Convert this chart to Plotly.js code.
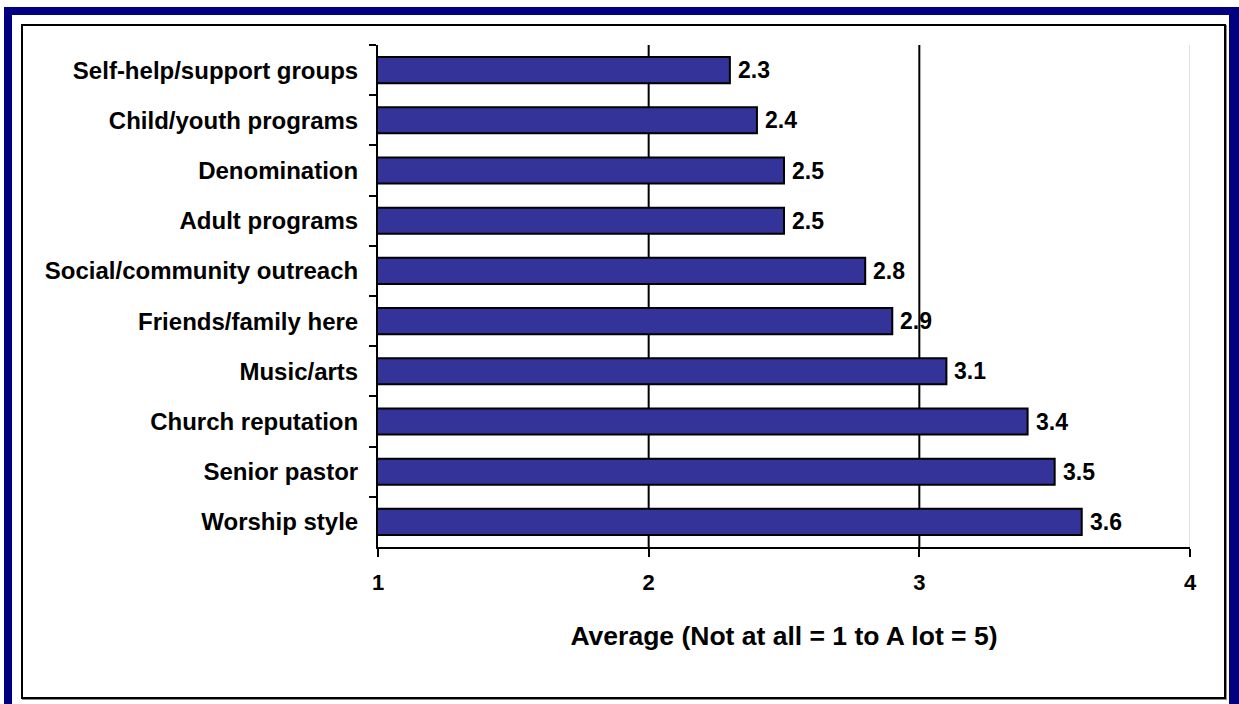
<!DOCTYPE html>
<html>
<head>
<meta charset="utf-8">
<script src="https://cdn.plot.ly/plotly-3.0.1.min.js"></script>
<style>
  html, body { margin: 0; padding: 0; background: #ffffff; }
  #wrap { position: relative; width: 1239px; height: 704px; overflow: hidden; }
  #chart { position: absolute; left: 0; top: 0; width: 1239px; height: 704px; }
  .frame { position: absolute; pointer-events: none; }
</style>
</head>
<body>
<div id="wrap">
  <div id="chart"></div>
  <div class="frame" style="left:4px; top:7px; width:1235px; height:8px; background:#000080;"></div>
  <div class="frame" style="left:4px; top:7px; width:8px; height:697px; background:#000080;"></div>
  <div class="frame" style="left:1229px; top:7px; width:10px; height:697px; background:#000080;"></div>
  <div class="frame" style="left:21px; top:24px; width:1201px; height:671px; border:2px solid #000; box-shadow: 1px 1px 0 #888;"></div>
</div>
<script>
const categories = [
  "Self-help/support groups",
  "Child/youth programs",
  "Denomination",
  "Adult programs",
  "Social/community outreach",
  "Friends/family here",
  "Music/arts",
  "Church reputation",
  "Senior pastor",
  "Worship style"
];
const values = [2.3, 2.4, 2.5, 2.5, 2.8, 2.9, 3.1, 3.4, 3.5, 3.6];
const xTicks = [1, 2, 3, 4];
const xTickLabels = ["1", "2", "3", "4"];
const gridDark = [2, 3];
const gridLight = [4];
const xTitle = "Average (Not at all = 1 to A lot = 5)";

const FONT = "Arial, 'Liberation Sans', sans-serif";

const shapes = [];
gridDark.forEach(v => shapes.push({
  type: "line", xref: "x", yref: "paper", x0: v, x1: v, y0: 0, y1: 1,
  line: { color: "#000000", width: 2 }, layer: "below"
}));
gridLight.forEach(v => shapes.push({
  type: "line", xref: "x", yref: "paper", x0: v, x1: v, y0: 0, y1: 1,
  line: { color: "#c0c0c0", width: 1 }, layer: "below"
}));

const annotations = values.map((v, i) => ({
  x: v, y: categories[i], xref: "x", yref: "y",
  text: v.toFixed(1), showarrow: false,
  xanchor: "left", yanchor: "middle", xshift: 6,
  font: { family: FONT, size: 23, color: "#000000", weight: "bold" }
}));

const trace = {
  type: "bar",
  orientation: "h",
  y: categories,
  x: values,
  base: 0,
  marker: { color: "#333399", line: { color: "#000000", width: 2 } },
  cliponaxis: false,
  hoverinfo: "none"
};

const layout = {
  width: 1239,
  height: 704,
  margin: { l: 378, r: 49, t: 45, b: 157 },
  paper_bgcolor: "#ffffff",
  plot_bgcolor: "rgba(0,0,0,0)",
  showlegend: false,
  bargap: 0.48,
  shapes: shapes,
  annotations: annotations,
  xaxis: {
    range: [1, 4],
    tickmode: "array",
    tickvals: xTicks,
    ticktext: xTickLabels,
    showgrid: false,
    zeroline: false,
    showline: true,
    linecolor: "#000000",
    linewidth: 2,
    ticks: "outside",
    ticklen: 8,
    tickwidth: 2,
    tickcolor: "#000000",
    ticklabelstandoff: 7,
    tickfont: { family: FONT, size: 22, color: "#000000", weight: "bold" },
    title: { text: xTitle, font: { family: FONT, size: 26.5, color: "#000000", weight: "bold" }, standoff: 32 }
  },
  yaxis: {
    type: "category",
    autorange: "reversed",
    showgrid: false,
    zeroline: false,
    showline: true,
    linecolor: "#000000",
    linewidth: 2,
    ticks: "outside",
    tickson: "boundaries",
    ticklen: 7,
    tickwidth: 2,
    tickcolor: "#000000",
    ticklabelstandoff: 13,
    tickfont: { family: FONT, size: 24, color: "#000000", weight: "bold" }
  }
};

Plotly.newPlot("chart", [trace], layout, { staticPlot: true, displayModeBar: false });
</script>
</body>
</html>
